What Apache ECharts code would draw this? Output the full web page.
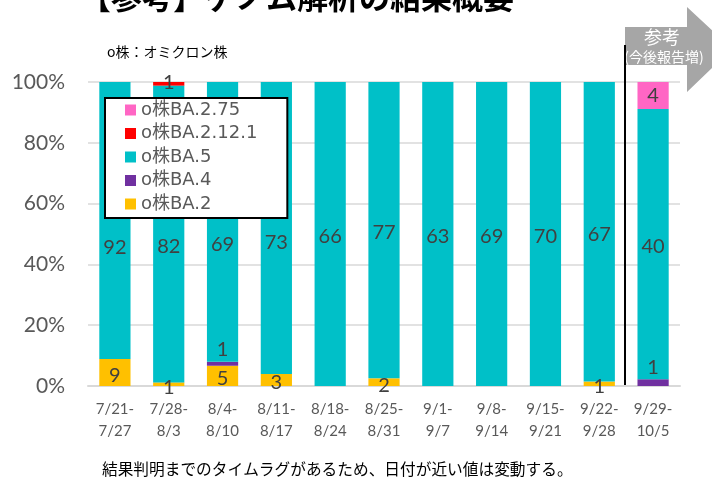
<!DOCTYPE html>
<html>
<head>
<meta charset="utf-8">
<script src="https://cdn.jsdelivr.net/npm/echarts@6/dist/echarts.min.js"></script>
<style>
  html, body { margin: 0; padding: 0; background: #fff; }
  #main { width: 712px; height: 480px; }
</style>
</head>
<body>
<div id="main"></div>
<script>
// 週ごとの検出数
const weeks = ['7/21-\n7/27', '7/28-\n8/3', '8/4-\n8/10', '8/11-\n8/17', '8/18-\n8/24', '8/25-\n8/31',
  '9/1-\n9/7', '9/8-\n9/14', '9/15-\n9/21', '9/22-\n9/28', '9/29-\n10/5'];
const ba2    = [9, 1, 5, 3, 0, 2, 0, 0, 0, 1, 0];
const ba4    = [0, 0, 1, 0, 0, 0, 0, 0, 0, 0, 1];
const ba5    = [92, 82, 69, 73, 66, 77, 63, 69, 70, 67, 40];
const ba2121 = [0, 1, 0, 0, 0, 0, 0, 0, 0, 0, 0];
const ba275  = [0, 0, 0, 0, 0, 0, 0, 0, 0, 0, 4];
const yTicks = [0, 20, 40, 60, 80, 100];

// BA.5のラベルは凡例を避けて少し下にずらしてある（px）
const ba5LabelShift = [27, 13, 23, 15, 3, 2, 3, 3, 3, 3, 2];

const FONT = "Lato, 'Noto Sans CJK JP', sans-serif";
const JP = "'Noto Sans CJK JP', sans-serif";
const totals = weeks.map((_, i) => ba2[i] + ba4[i] + ba5[i] + ba2121[i] + ba275[i]);

// 100%積み上げ用に割合へ変換（ラベルは件数）
function pct(arr, shift) {
  return arr.map((v, i) => {
    const d = { value: v === 0 ? 0 : v / totals[i] * 100, count: v };
    if (shift) d.label = { offset: [0, shift[i]] };
    return d;
  });
}

function bar(name, arr, color, labelPos, labelOffset, shift) {
  return {
    name: name,
    type: 'bar',
    stack: 'all',
    barWidth: '58%',
    itemStyle: { color: color },
    label: {
      show: true,
      position: labelPos,
      distance: 2,
      offset: labelOffset || [0, 0],
      color: '#404040',
      fontSize: 20,
      fontFamily: FONT,
      formatter: p => (p.data.count ? String(p.data.count) : '')
    },
    data: pct(arr, shift)
  };
}

const chart = echarts.init(document.getElementById('main'));

chart.setOption({
  animation: false,
  backgroundColor: '#fff',
  grid: { left: 88, right: 32, top: 82, bottom: 94 },
  legend: {
    orient: 'vertical',
    left: 105,
    top: 98,
    data: ['o株BA.2.75', 'o株BA.2.12.1', 'o株BA.5', 'o株BA.4', 'o株BA.2'],
    backgroundColor: '#fff',
    borderColor: '#000',
    borderWidth: 2,
    borderRadius: 0,
    padding: [3, 30, 5, 20],
    itemGap: 5.5,
    itemWidth: 11,
    itemHeight: 11,
    icon: 'rect',
    textStyle: { color: '#595959', fontSize: 18, fontFamily: "'DejaVu Sans', 'Noto Sans CJK JP', sans-serif" }
  },
  xAxis: {
    type: 'category',
    data: weeks,
    axisLine: { lineStyle: { color: '#d9d9d9', width: 2 } },
    axisTick: { show: false },
    axisLabel: { color: '#595959', fontSize: 15, fontFamily: FONT, lineHeight: 22, margin: 12 }
  },
  yAxis: {
    type: 'value',
    min: yTicks[0],
    max: yTicks[yTicks.length - 1],
    interval: 20,
    axisLine: { show: false },
    axisTick: { show: false },
    splitLine: { lineStyle: { color: '#d9d9d9', width: 1.5 } },
    axisLabel: { formatter: '{value}%', color: '#595959', fontSize: 21, fontFamily: FONT, margin: 23 }
  },
  series: [
    bar('o株BA.2', ba2, '#ffc000', 'inside', [0, 3]),
    bar('o株BA.4', ba4, '#7030a0', 'top'),
    bar('o株BA.5', ba5, '#00c0c8', 'inside', null, ba5LabelShift),
    bar('o株BA.2.12.1', ba2121, '#ff0000', 'inside', [0, -1]),
    bar('o株BA.2.75', ba275, '#ff66c4', 'inside')
  ]
});

// 参考週との区切り線は最後の2カテゴリの中間に置く
const xa = chart.convertToPixel({ xAxisIndex: 0 }, weeks[9]);
const xb = chart.convertToPixel({ xAxisIndex: 0 }, weeks[10]);
const sepX = Math.round((xa + xb) / 2) - 1;
const baseY = chart.convertToPixel({ yAxisIndex: 0 }, 0);

chart.setOption({
  graphic: [
    {
      type: 'text', left: 80, top: -18,
      style: { text: '【参考】ゲノム解析の結果概要', fontSize: 31, fontWeight: 'bold', fill: '#000', fontFamily: JP }
    },
    {
      type: 'text', left: 107, top: 45,
      style: { text: 'o株：オミクロン株', fontSize: 14, fill: '#000', fontFamily: JP }
    },
    {
      type: 'polygon',
      shape: { points: [[sepX, 27], [687, 27], [687, 7], [732, 49], [687, 92], [687, 65], [sepX, 65]] },
      style: { fill: '#a6a6a6' }
    },
    {
      type: 'text', x: 662, y: 37,
      style: { text: '参考', fontSize: 18, fill: '#fff', align: 'center', verticalAlign: 'middle', fontFamily: JP }
    },
    {
      type: 'text', x: 664, y: 57,
      style: { text: '(今後報告増)', fontSize: 14, fill: '#fff', align: 'center', verticalAlign: 'middle', fontFamily: JP }
    },
    {
      type: 'line',
      shape: { x1: sepX, y1: 45, x2: sepX, y2: baseY },
      style: { stroke: '#000', lineWidth: 2 }
    },
    {
      type: 'text', left: 102, top: 461,
      style: { text: '結果判明までのタイムラグがあるため、日付が近い値は変動する。', fontSize: 15.7, fill: '#000', fontFamily: JP }
    }
  ]
});
</script>
</body>
</html>
